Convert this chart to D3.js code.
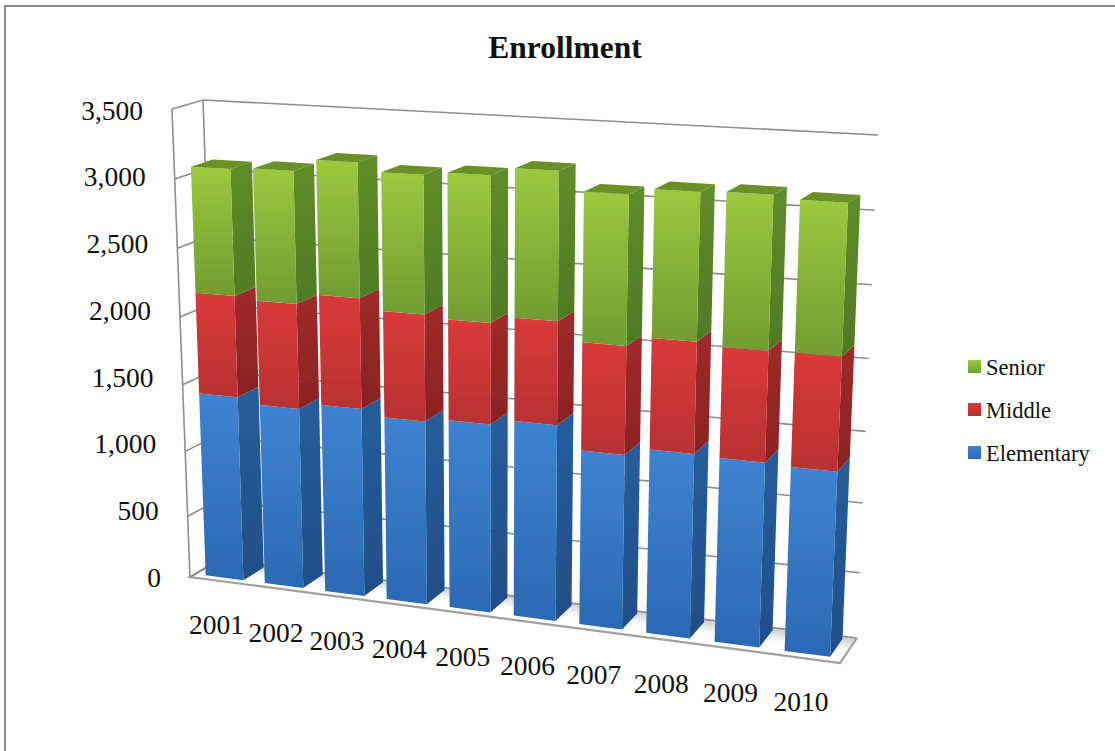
<!DOCTYPE html>
<html>
<head>
<meta charset="utf-8">
<script src="https://cdn.jsdelivr.net/npm/d3@7"></script>
<style>
  html, body { margin: 0; padding: 0; background: #fff; }
  svg { display: block; }
  text { font-family: "Liberation Serif", serif; fill: #111; }
</style>
</head>
<body>
<div id="chart"></div>
<script>
var categories = ["2001", "2002", "2003", "2004", "2005", "2006", "2007", "2008", "2009", "2010"];
var elementary = [1425, 1383, 1427, 1383, 1408, 1449, 1288, 1344, 1332, 1320];
var middle = [742, 762, 797, 762, 716, 725, 755, 768, 759, 774];
var senior = [913, 948, 956, 976, 1021, 1029, 1029, 1005, 1036, 1010];
var valueTicks = [0, 500, 1000, 1500, 2000, 2500, 3000, 3500];
var seriesNames = ["Elementary", "Middle", "Senior"];
var seriesColors = {
  Elementary: { top: "#3d83d0", bottom: "#2b69b4", sideTop: "#265d9c", sideBottom: "#1f4f88", cap: "#2a5f9f" },
  Middle: { top: "#d93a39", bottom: "#b83130", sideTop: "#a02a2a", sideBottom: "#8a2323", cap: "#9c2a2a" },
  Senior: { top: "#9cc93f", bottom: "#729c30", sideTop: "#618c29", sideBottom: "#4f7a24", cap: "#6a9028" }
};

var width = 1115, height = 751;

// the plot box: [x, y] of the box corners on screen
var frontLeft = { bottom: [190, 577], top: [172, 109] };
var frontRight = { bottom: [840, 663], top: [861, 144] };
var backLeft = { bottom: [219, 560], top: [203, 100] };
var backRight = { bottom: [857, 638], top: [878, 135] };

var svg = d3.select("#chart").append("svg").attr("width", width).attr("height", height);
var defs = svg.append("defs");

var rows = categories.map(function(c, i) {
  return { year: c, Elementary: elementary[i], Middle: middle[i], Senior: senior[i] };
});
var stacked = d3.stack().keys(seriesNames)(rows);

var bandScale = d3.scaleBand().domain(categories).range([0, 1]).paddingInner(0.36).paddingOuter(0.18);
var valueScale = d3.scalePow().exponent(1.05).domain([0, 3500]).range([0, 1]);
var depthScale = d3.scaleLinear().domain([0, 1]).range([0.18, 0.9]);
var labelScale = d3.scaleLinear().domain([0, 3500]).range([578, 110.5]);
var floorShade = d3.scaleLinear().domain([0.45, 1]).range(["#ffffff", "#cacaca"]).clamp(true);

var perspective = -0.1;
function lerp(a, b, t) {
  return [a[0] + (b[0] - a[0]) * t, a[1] + (b[1] - a[1]) * t];
}
// s: 0-1 along the categories, v: value, d: 0 front to 1 back
function project(s, v, d) {
  var t = s * (1 + perspective) / (1 + perspective * s);
  var h = valueScale(v);
  var fl = lerp(frontLeft.bottom, frontLeft.top, h);
  var fr = lerp(frontRight.bottom, frontRight.top, h);
  var bl = lerp(backLeft.bottom, backLeft.top, h);
  var br = lerp(backRight.bottom, backRight.top, h);
  return lerp(lerp(fl, fr, t), lerp(bl, br, t), d);
}
function poly(points) {
  return points.map(function(p) { return p[0].toFixed(1) + "," + p[1].toFixed(1); }).join(" ");
}
function addGradient(id, stops) {
  var g = defs.append("linearGradient").attr("id", id)
    .attr("x1", 0).attr("y1", 0).attr("x2", 0).attr("y2", 1);
  stops.forEach(function(c, i) {
    g.append("stop").attr("offset", i / (stops.length - 1)).attr("stop-color", c);
  });
}
seriesNames.forEach(function(name) {
  var c = seriesColors[name];
  addGradient("front-" + name, [c.top, c.bottom]);
  addGradient("side-" + name, [c.sideTop, c.sideBottom]);
});
defs.append("filter").attr("id", "soft").append("feGaussianBlur").attr("stdDeviation", 0.5);

// chart area edge: only the top and left show in the picture
svg.append("path").attr("d", "M5,751V6H1115").attr("fill", "none")
  .attr("stroke", "#8a8a8a").attr("stroke-width", 2);

svg.append("text").attr("x", 565).attr("y", 58).attr("text-anchor", "middle")
  .attr("font-size", 31.5).attr("font-weight", "bold").text("Enrollment");

// floor, shaded towards the back wall in thin strips
var floorG = svg.append("g").attr("filter", "url(#soft)");
var floorStrips = d3.range(0, 1, 0.05);
floorG.selectAll("polygon").data(floorStrips).enter().append("polygon")
  .attr("points", function(d) {
    return poly([project(0, 0, d), project(1, 0, d), project(1, 0, d + 0.05), project(0, 0, d + 0.05)]);
  })
  .attr("fill", function(d) { return floorShade(d); })
  .attr("stroke", function(d) { return floorShade(d); })
  .attr("stroke-width", 0.5);
floorG.append("polyline")
  .attr("points", poly([project(0, 0, 1), project(0, 0, 0), project(1, 0, 0), project(1, 0, 1)]))
  .attr("fill", "none").attr("stroke", "#a0a0a0").attr("stroke-width", 2.2);

// gridlines on the side wall and the back wall
var gridG = svg.append("g").attr("fill", "none").attr("stroke", "#8e8e8e").attr("stroke-width", 1.6)
  .attr("filter", "url(#soft)");
gridG.selectAll("polyline").data(valueTicks).enter().append("polyline")
  .attr("points", function(v) { return poly([project(0, v, 0), project(0, v, 1), project(1, v, 1)]); });
gridG.append("line")
  .attr("x1", frontLeft.bottom[0]).attr("y1", frontLeft.bottom[1])
  .attr("x2", frontLeft.top[0]).attr("y2", frontLeft.top[1]);
gridG.append("line")
  .attr("x1", backLeft.bottom[0]).attr("y1", backLeft.bottom[1])
  .attr("x2", backLeft.top[0]).attr("y2", backLeft.top[1]);

// bars, left to right, bottom segment first
var barG = svg.selectAll("g.bar").data(categories).enter().append("g").attr("class", "bar")
  .attr("filter", "url(#soft)");
barG.each(function(year, i) {
  var g = d3.select(this);
  var s0 = bandScale(year), s1 = s0 + bandScale.bandwidth();
  stacked.forEach(function(layer) {
    var name = layer.key, v0 = layer[i][0], v1 = layer[i][1];
    var d0 = depthScale(0), d1 = depthScale(1);
    g.append("polygon")
      .attr("points", poly([project(s1, v0, d0), project(s1, v0, d1), project(s1, v1, d1), project(s1, v1, d0)]))
      .attr("fill", "url(#side-" + name + ")");
    g.append("polygon")
      .attr("points", poly([project(s0, v0, d0), project(s1, v0, d0), project(s1, v1, d0), project(s0, v1, d0)]))
      .attr("fill", "url(#front-" + name + ")");
    if (name === "Senior") {
      g.append("polygon")
        .attr("points", poly([project(s0, v1, d0), project(s1, v1, d0), project(s1, v1, d1), project(s0, v1, d1)]))
        .attr("fill", seriesColors[name].cap);
    }
  });
});

// value labels follow the slanted front edge of the side wall
svg.append("g").selectAll("text").data(valueTicks).enter().append("text")
  .attr("text-anchor", "end").attr("font-size", 27.5)
  .attr("x", function(v) { return project(0, v, 0)[0] - 29; })
  .attr("y", function(v) { return labelScale(v) + 9; })
  .text(d3.format(","));

// category labels hang under the front edge of the floor
svg.append("g").selectAll("text").data(categories).enter().append("text")
  .attr("text-anchor", "middle").attr("font-size", 27.5)
  .attr("x", function(c) { return project(bandScale(c) + bandScale.bandwidth() / 2, 0, 0)[0] - 3; })
  .attr("y", function(c) { return project(bandScale(c) + bandScale.bandwidth() / 2, 0, 0)[1] + 53; })
  .text(function(c) { return c; });

// legend
var legendScale = d3.scalePoint().domain(seriesNames).range([453, 367]);
var legendG = svg.selectAll("g.legend").data(seriesNames).enter().append("g").attr("class", "legend")
  .attr("transform", function(n) { return "translate(968," + legendScale(n) + ")"; });
legendG.append("rect").attr("x", 0).attr("y", -7).attr("width", 13).attr("height", 13)
  .attr("fill", function(n) { return "url(#front-" + n + ")"; });
legendG.append("text").attr("x", 18).attr("y", 7.5).attr("font-size", 22.5)
  .text(function(n) { return n; });
</script>
</body>
</html>
